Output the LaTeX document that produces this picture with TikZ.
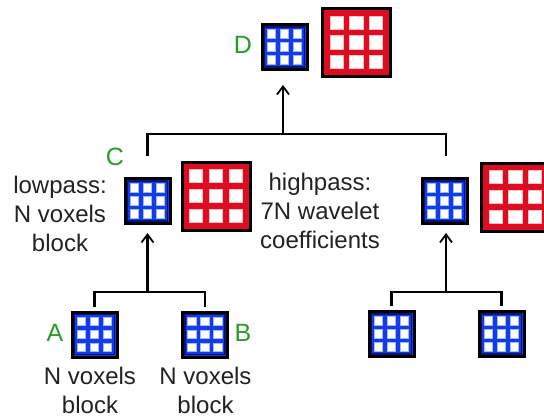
\documentclass[tikz,border=0pt]{standalone}
\usepackage{fontspec}
\setmainfont{Liberation Sans}
\usetikzlibrary{arrows.meta}
\definecolor{blkblue}{RGB}{22,58,232}
\definecolor{blknavy}{RGB}{10,20,120}
\definecolor{cellglow}{RGB}{150,190,255}
\definecolor{blkred}{RGB}{222,12,32}
\definecolor{cellpink}{RGB}{255,190,195}
\definecolor{lettergreen}{RGB}{40,155,40}
\definecolor{txt}{RGB}{34,34,34}
\begin{document}
\begin{tikzpicture}[x=1pt,y=-1pt,
  lowblk/.style={draw=black, line width=3pt, fill=blkblue, minimum size=45pt,
    inner sep=0pt, outer sep=1.5pt,
    path picture={
      \draw[blknavy, line width=1.6pt]
        ([shift={(-20pt,-20pt)}]path picture bounding box.center) rectangle
        ([shift={(20pt,20pt)}]path picture bounding box.center);
      \foreach \i in {-1,0,1} \foreach \j in {-1,0,1}
        \filldraw[fill=white, draw=cellglow, line width=1.2pt]
          ([shift={(\i*13pt-4.2pt,\j*13pt-4.2pt)}]path picture bounding box.center)
          rectangle ++(8.4pt,8.4pt);
    }},
  highblk/.style={draw=black, line width=3pt, fill=blkred, minimum size=68pt,
    inner sep=0pt, outer sep=1.5pt,
    path picture={
      \foreach \i in {-1,0,1} \foreach \j in {-1,0,1}
        \filldraw[fill=white, draw=cellpink, line width=1pt]
          ([shift={(\i*19.7pt-6.6pt,\j*19.7pt-6.6pt)}]path picture bounding box.center)
          rectangle ++(13.2pt,13.2pt);
    }},
  wire/.style={draw=black, line width=2.2pt},
  uparrow/.style={wire, -{Straight Barb[length=8pt,width=12pt,line width=1.8pt]}},
  tag/.style={text=lettergreen, font=\fontsize{25}{30}\selectfont, inner sep=0pt},
  caption/.style={text=txt, align=center, inner sep=0pt,
    font=\fontsize{24}{29}\selectfont}
]
\useasboundingbox (0,0) rectangle (544,418);
\clip (0,0) rectangle (544,418);
\fill[white] (0,0) rectangle (544,418);

% root level
\node[lowblk]  (d)  at (284.5,47) {};
\node[highblk] (dh) at (356.5,42.5) {};

% middle level
\node[lowblk]  (c)  at (147.5,201) {};
\node[highblk] (ch) at (216,196) {};
\node[lowblk]  (r)  at (444.5,201) {};
\node[highblk] (rh) at (515.5,197) {};

% leaves
\node[lowblk] (a)  at (94.5,334.5) {};
\node[lowblk] (b)  at (205,334.5) {};
\node[lowblk] (ra) at (391.5,334) {};
\node[lowblk] (rb) at (501.5,334) {};

% tree connectors
\coordinate (abj)  at (147.5,292);
\coordinate (rabj) at (446,292);
\coordinate (topj) at (283,134);

\draw[wire] ([yshift=4pt]a.north) |- (abj) -| ([yshift=4pt]b.north);
\draw[uparrow] (abj) -- ([yshift=-8pt]c.south);

\draw[wire] ([yshift=4pt]ra.north) |- (rabj) -| ([yshift=4pt]rb.north);
\draw[uparrow] (rabj) -- ([xshift=1.5pt,yshift=-8pt]r.south);

\draw[wire] ([yshift=21pt]c.north) |- (topj) -| ([xshift=1.5pt,yshift=21pt]r.north);
\draw[uparrow] (topj) -- ([xshift=-1.5pt,yshift=-14pt]d.south);

% letters
\node[tag] (ld) at (243,45) {D};
\node[tag] (lc) at (115,157) {C};
\node[tag] (la) at (55,333) {A};
\node[tag] (lb) at (243,333) {B};

% captions
\node[caption] (lowtxt)  at (60,214)  {lowpass:\\N voxels\\block};
\node[caption] (hightxt) at (320,211) {highpass:\\7N wavelet\\coefficients};
\node[caption] (atxt) at (90,390)  {N voxels\\block};
\node[caption] (btxt) at (205.5,390) {N voxels\\block};
\end{tikzpicture}
\end{document}
